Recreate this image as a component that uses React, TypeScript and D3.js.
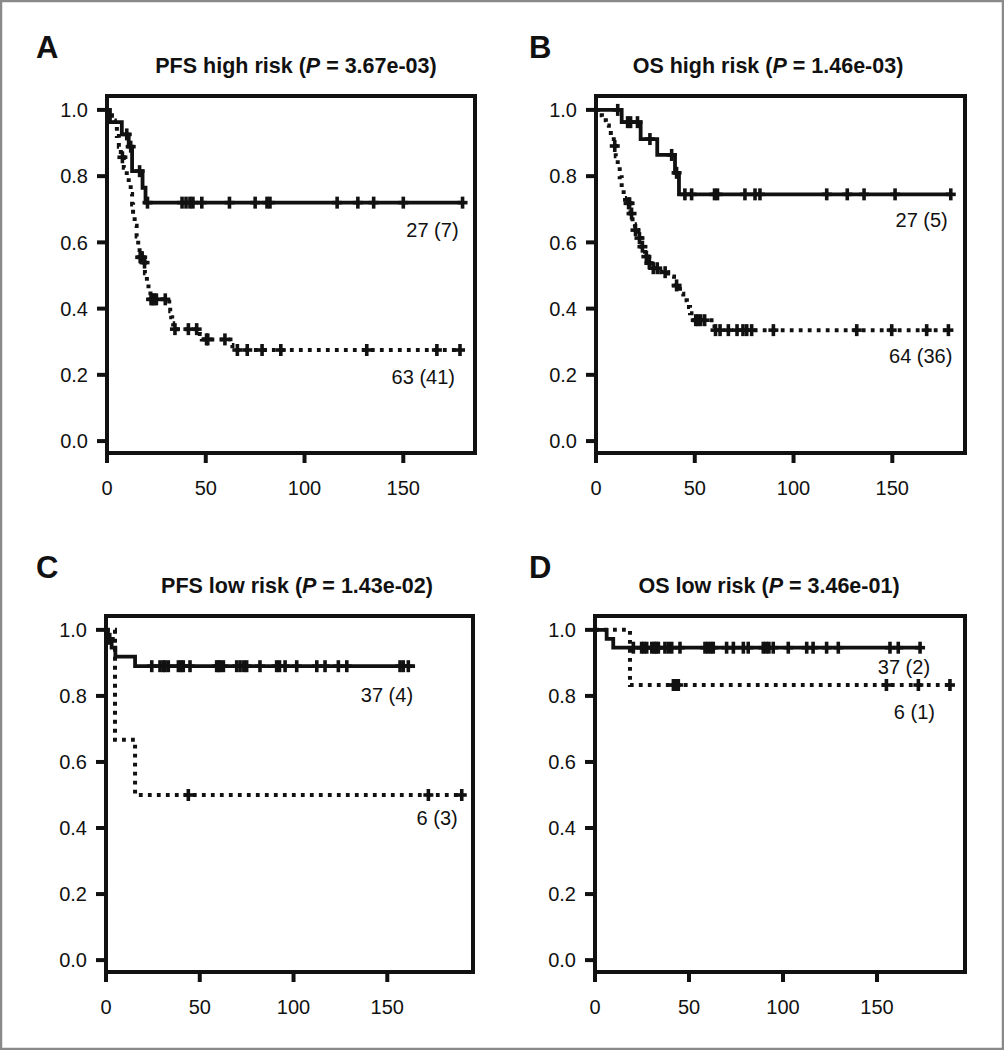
import React from 'react';
import * as d3 from 'd3';

const W = 1004;
const H = 1050;
const FONT = '"Liberation Sans", Arial, Helvetica, sans-serif';

const yTicks = [0, 0.2, 0.4, 0.6, 0.8, 1.0];
const xTicks = [0, 50, 100, 150];

// A: PFS high risk
const aSolidTimes = [1.5, 7.5, 11, 12.7, 18, 19.5];
const aSolidSurv = [0.963, 0.926, 0.889, 0.815, 0.765, 0.72];
const aSolidCens = [10, 12, 16.5, 20.5, 38, 40, 42, 43.5, 48, 62, 75, 81, 82.5, 116.5, 127, 135, 150, 180];
const aSolidEnd = 180;
const aDotTimes = [1, 2.5, 4, 5, 6, 7, 8.5, 10, 11, 12, 12.7, 13.2, 14, 15, 15.8, 16.5, 18.5, 19.2, 20.2, 21, 22, 31.5, 32, 32.5, 33, 33.5, 47, 48, 62.5, 63.5];
const aDotSurv = [0.984, 0.968, 0.952, 0.921, 0.889, 0.857, 0.825, 0.794, 0.778, 0.746, 0.714, 0.682, 0.65, 0.618, 0.587, 0.555, 0.539, 0.507, 0.475, 0.46, 0.428, 0.41, 0.392, 0.374, 0.356, 0.338, 0.323, 0.307, 0.29, 0.275];
const aDotCens = [7.8, 16.8, 17.3, 17.8, 19, 22.3, 23, 24, 25, 29.5, 34.4, 41.2, 45.4, 50.4, 51, 59.7, 66, 71, 78.5, 88, 131.5, 167, 178.7];
const aDotEnd = 178.7;

// B: OS high risk
const bSolidTimes = [13, 22.6, 31, 40, 42];
const bSolidSurv = [0.963, 0.912, 0.864, 0.81, 0.745];
const bSolidCens = [11, 16, 17.5, 21, 27.3, 38.3, 40.8, 45, 48.4, 60, 61.5, 75.4, 80.5, 83, 116.8, 127.2, 135.7, 151.4, 179.6];
const bSolidEnd = 179.6;
const bDotTimes = [1, 3, 5, 6.5, 7.5, 9, 10, 11, 12, 13, 14, 14.7, 17.5, 18.5, 19.7, 21.3, 23, 24.8, 26.4, 28, 33, 36.5, 39.5, 42.5, 44.2, 46, 47.6, 49.5, 60];
const bDotSurv = [0.984, 0.969, 0.953, 0.938, 0.922, 0.891, 0.86, 0.829, 0.797, 0.766, 0.734, 0.718, 0.687, 0.655, 0.637, 0.613, 0.587, 0.557, 0.537, 0.522, 0.51, 0.497, 0.47, 0.445, 0.425, 0.405, 0.386, 0.365, 0.335];
const bDotCens = [9.5, 16.5, 17, 18, 20, 22, 23.5, 25.5, 27, 29, 31, 35, 40.8, 50.5, 51.5, 53, 55, 60.5, 62.8, 67, 71.4, 74.4, 76.3, 78.8, 89.8, 132, 149.7, 167.4, 178.4];
const bDotEnd = 178.4;

// C: PFS low risk
const cSolidTimes = [1, 3, 5, 15.5];
const cSolidSurv = [0.973, 0.946, 0.919, 0.89];
const cSolidCens = [2, 24.4, 28.8, 30.5, 31.5, 33.2, 38.6, 40, 41.2, 44.8, 59, 60, 61, 62.6, 69.7, 71.5, 73.5, 75, 82.1, 91, 92.5, 95.5, 101.7, 112.4, 116.8, 123.9, 128.4, 156.8, 158.5, 161.2];
const cSolidEnd = 164.8;
const cDotTimes = [4.8, 15.5];
const cDotSurv = [0.667, 0.5];
const cDotCens = [43.9, 171.9, 189.7];
const cDotEnd = 189.7;

// D: OS low risk
const dSolidTimes = [6.2, 9.7];
const dSolidSurv = [0.973, 0.946];
const dSolidCens = [20.4, 24.8, 26, 27.5, 30.2, 31.5, 32.5, 33.7, 37.2, 39, 40.8, 45.2, 58.5, 60, 61.5, 62.9, 70, 73.6, 78.9, 81.5, 89.5, 91, 92.5, 94.8, 102.8, 112.6, 116, 123.2, 129.4, 156.9, 161.3, 172.9];
const dSolidEnd = 172.9;
const dDotTimes = [18.6];
const dDotSurv = [0.833];
const dDotCens = [41.7, 43, 44.3, 155, 172, 188.8];
const dDotEnd = 188.8;

const panelLetters = ['A', 'B', 'C', 'D'];
const titleStarts = ['PFS high risk (', 'OS high risk (', 'PFS low risk (', 'OS low risk ('];
const pValues = ['3.67e-03', '1.46e-03', '1.43e-02', '3.46e-01'];
const solidLabels = ['27 (7)', '27 (5)', '37 (4)', '37 (2)'];
const dotLabels = ['63 (41)', '64 (36)', '6 (3)', '6 (1)'];

type Curve = { times: number[]; surv: number[]; cens: number[]; end: number };

const curves: { solid: Curve; dot: Curve }[] = [
  { solid: { times: aSolidTimes, surv: aSolidSurv, cens: aSolidCens, end: aSolidEnd }, dot: { times: aDotTimes, surv: aDotSurv, cens: aDotCens, end: aDotEnd } },
  { solid: { times: bSolidTimes, surv: bSolidSurv, cens: bSolidCens, end: bSolidEnd }, dot: { times: bDotTimes, surv: bDotSurv, cens: bDotCens, end: bDotEnd } },
  { solid: { times: cSolidTimes, surv: cSolidSurv, cens: cSolidCens, end: cSolidEnd }, dot: { times: cDotTimes, surv: cDotSurv, cens: cDotCens, end: cDotEnd } },
  { solid: { times: dSolidTimes, surv: dSolidSurv, cens: dSolidCens, end: dSolidEnd }, dot: { times: dDotTimes, surv: dDotSurv, cens: dDotCens, end: dDotEnd } },
];

// layout of each panel (pixels), and the x domain end
const layout = [
  { left: 107, right: 475, top: 96, bottom: 453, xMax: 186.3, titleX: 296, letterX: 36, solidLbl: [-4, 34], dotLbl: [-5, 34] },
  { left: 596, right: 965, top: 96, bottom: 453, xMax: 186.8, titleX: 768, letterX: 529, solidLbl: [-3, 33], dotLbl: [4, 33] },
  { left: 106, right: 473, top: 616, bottom: 972, xMax: 195.7, titleX: 297, letterX: 36, solidLbl: [-2, 36], dotLbl: [-4, 30] },
  { left: 595, right: 965, top: 616, bottom: 972, xMax: 196.8, titleX: 769, letterX: 529, solidLbl: [10, 26], dotLbl: [-15, 34] },
];

function survAt(c: Curve, t: number) {
  let s = 1;
  c.times.forEach((tt, i) => {
    if (tt <= t) s = c.surv[i];
  });
  return s;
}

function CurveMarks({ c, x, y, dotted }: { c: Curve; x: any; y: any; dotted: boolean }) {
  const pts: [number, number][] = [[0, 1], ...c.times.map((t, i) => [t, c.surv[i]] as [number, number]), [c.end, c.surv[c.surv.length - 1]]];
  const line = d3
    .line<[number, number]>()
    .x((d) => x(d[0]))
    .y((d) => y(d[1]))
    .curve(d3.curveStepAfter);
  return (
    <g>
      <path
        d={line(pts) || ''}
        fill="none"
        stroke="#111"
        strokeWidth={dotted ? 4 : 3.8}
        strokeDasharray={dotted ? '3.8 5.2' : undefined}
        strokeLinejoin="miter"
      />
      {c.cens.map((t, i) => {
        const cx = x(t);
        const cy = y(survAt(c, t));
        return (
          <g key={i} stroke="#111" strokeWidth={3.6}>
            <line x1={cx} x2={cx} y1={cy - 6} y2={cy + 6} />
            <line x1={cx - 5} x2={cx + 5} y1={cy} y2={cy} />
          </g>
        );
      })}
    </g>
  );
}

function Panel({ i }: { i: number }) {
  const L = layout[i];
  const x = d3.scaleLinear().domain([0, L.xMax]).range([L.left, L.right]);
  const y = d3.scaleLinear().domain([-0.036, 1.042]).range([L.bottom, L.top]);
  const { solid, dot } = curves[i];
  const fmt = d3.format('.1f');
  const sEndX = x(solid.end);
  const sEndY = y(solid.surv[solid.surv.length - 1]);
  const dEndX = x(dot.end);
  const dEndY = y(dot.surv[dot.surv.length - 1]);

  return (
    <g>
      <text x={L.letterX} y={L.top - 38} fontSize={31} fontWeight="bold" fill="#111">
        {panelLetters[i]}
      </text>
      <text x={L.titleX} y={L.top - 23} fontSize={21.5} fontWeight="bold" textAnchor="middle" fill="#111">
        {titleStarts[i]}
        <tspan fontStyle="italic">P</tspan>
        {` = ${pValues[i]})`}
      </text>

      <CurveMarks c={dot} x={x} y={y} dotted />
      <CurveMarks c={solid} x={x} y={y} dotted={false} />

      <rect
        x={L.left}
        y={L.top}
        width={L.right - L.left}
        height={L.bottom - L.top}
        fill="none"
        stroke="#111"
        strokeWidth={4}
      />

      {yTicks.map((v) => (
        <g key={`y${v}`}>
          <line x1={L.left - 10} x2={L.left} y1={y(v)} y2={y(v)} stroke="#111" strokeWidth={4} />
          <text x={L.left - 19} y={y(v)} dy="0.36em" fontSize={20} textAnchor="end" fill="#111">
            {fmt(v)}
          </text>
        </g>
      ))}
      {xTicks.map((v) => (
        <g key={`x${v}`}>
          <line x1={x(v)} x2={x(v)} y1={L.bottom} y2={L.bottom + 10} stroke="#111" strokeWidth={4} />
          <text x={x(v)} y={L.bottom + 42} fontSize={20} textAnchor="middle" fill="#111">
            {v}
          </text>
        </g>
      ))}

      <text x={sEndX + L.solidLbl[0]} y={sEndY + L.solidLbl[1]} fontSize={20} textAnchor="end" fill="#111">
        {solidLabels[i]}
      </text>
      <text x={dEndX + L.dotLbl[0]} y={dEndY + L.dotLbl[1]} fontSize={20} textAnchor="end" fill="#111">
        {dotLabels[i]}
      </text>
    </g>
  );
}

export default function App() {
  return (
    <div style={{ position: 'absolute', left: 0, top: 0 }}>
      <svg width={W} height={H} style={{ display: 'block', fontFamily: FONT }}>
        <rect x={0} y={0} width={W} height={H} fill="#fff" />
        <rect x={1} y={1} width={W - 2} height={H - 2} fill="none" stroke="#8a8a8a" strokeWidth={2.5} />
        {[0, 1, 2, 3].map((i) => (
          <Panel key={i} i={i} />
        ))}
      </svg>
    </div>
  );
}
